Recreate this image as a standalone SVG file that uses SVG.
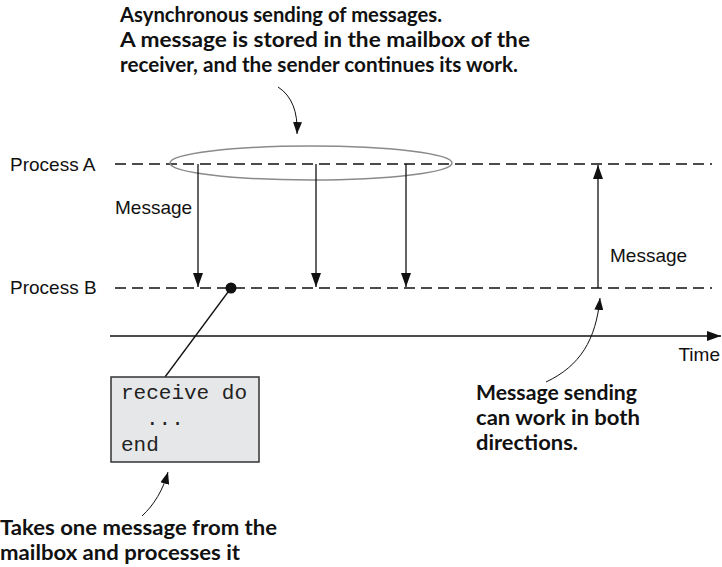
<svg xmlns="http://www.w3.org/2000/svg" width="722" height="567" viewBox="0 0 722 567">
<style>
.lbl{font-family:"Liberation Sans",Arial,sans-serif;font-size:19px;fill:#111}
.note{font-family:Lato,"Open Sans",sans-serif;font-weight:bold;font-size:21px;fill:#111}
.code{font-family:"Liberation Mono","Courier New",monospace;font-size:21px;fill:#222}
.dash{stroke:#111;stroke-width:1.3;stroke-dasharray:11 6;fill:none}
.arr{stroke:#111;stroke-width:1.3;fill:none;marker-end:url(#ah)}
.curve{stroke:#111;stroke-width:1;fill:none;marker-end:url(#ahs)}
</style>
<defs>
<marker id="ah" viewBox="0 0 14 10" refX="14" refY="5" markerWidth="14" markerHeight="10" markerUnits="userSpaceOnUse" orient="auto"><path d="M0,0 L14,5 L0,10 Z" fill="#111"/></marker>
<marker id="ahs" viewBox="0 0 12 9" refX="12" refY="4.5" markerWidth="12" markerHeight="9" markerUnits="userSpaceOnUse" orient="auto"><path d="M0,0 L12,4.5 L0,9 Z" fill="#111"/></marker>
</defs>
<rect width="722" height="567" fill="#fff"/>

<g id="title-note">
<text class="note" x="120" y="22" textLength="322" lengthAdjust="spacingAndGlyphs">Asynchronous sending of messages.</text>
<text class="note" x="120" y="47" textLength="410" lengthAdjust="spacingAndGlyphs">A message is stored in the mailbox of the</text>
<text class="note" x="120" y="72" textLength="398" lengthAdjust="spacingAndGlyphs">receiver, and the sender continues its work.</text>
</g>

<g id="process-a">
<text class="lbl" x="10" y="171">Process A</text>
<line class="dash" x1="115" y1="164" x2="712" y2="164"/>
</g>
<g id="process-b">
<text class="lbl" x="10" y="294">Process B</text>
<line class="dash" x1="115" y1="288" x2="712" y2="288"/>
</g>

<g id="mailbox-ellipse">
<ellipse cx="311" cy="163" rx="141" ry="17" fill="none" stroke="#8a8a8a" stroke-width="1.5"/>
</g>

<g id="time-axis">
<line class="arr" x1="110" y1="336" x2="721" y2="336"/>
<text class="lbl" x="720" y="361" text-anchor="end">Time</text>
</g>

<g id="connectors">
<line class="arr" x1="198" y1="164" x2="198" y2="287"/>
<line class="arr" x1="316" y1="164" x2="316" y2="287"/>
<line class="arr" x1="406" y1="164" x2="406" y2="287"/>
<line class="arr" x1="598" y1="288" x2="598" y2="165"/>
<line x1="231" y1="288" x2="165" y2="377" stroke="#111" stroke-width="1.3"/>
<circle cx="231" cy="288" r="5.5" fill="#111"/>
<path class="curve" d="M278,87 C292,96 298,112 297,134"/>
<path class="curve" d="M546,382 C580,366 596,340 600,298"/>
<path class="curve" d="M142,516 C154,505 163,490 168,472"/>
</g>

<g id="message-labels">
<text class="lbl" x="115" y="214">Message</text>
<text class="lbl" x="610" y="262">Message</text>
</g>

<g id="receive-box">
<rect x="111" y="377" width="148" height="85" fill="#e6e7e8" stroke="#333" stroke-width="1.5"/>
<text class="code" x="121" y="399">receive do</text>
<text class="code" x="146" y="425">...</text>
<text class="code" x="121" y="451">end</text>
</g>

<g id="both-directions-note">
<text class="note" x="476" y="400" textLength="161" lengthAdjust="spacingAndGlyphs">Message sending</text>
<text class="note" x="476" y="425" textLength="164" lengthAdjust="spacingAndGlyphs">can work in both</text>
<text class="note" x="476" y="450" textLength="102" lengthAdjust="spacingAndGlyphs">directions.</text>
</g>

<g id="takes-note">
<text class="note" x="0" y="535" textLength="277" lengthAdjust="spacingAndGlyphs">Takes one message from the</text>
<text class="note" x="0" y="560" textLength="240" lengthAdjust="spacingAndGlyphs">mailbox and processes it</text>
</g>
</svg>
